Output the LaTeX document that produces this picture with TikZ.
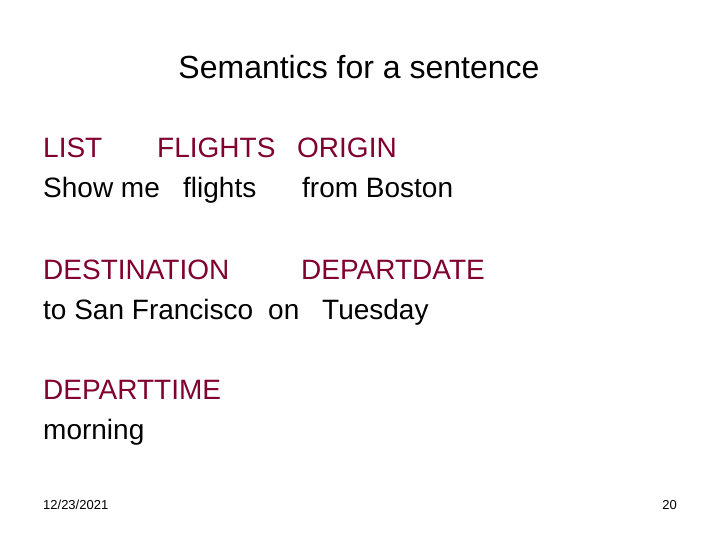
\documentclass[tikz,border=0pt]{standalone}
\usepackage{fontspec}
\setmainfont{Liberation Sans}
\definecolor{slotred}{RGB}{128,0,48}
\tikzset{
  slot/.style={anchor=base west,inner sep=0pt,text=slotred,font=\fontsize{28}{34}\selectfont},
  word/.style={anchor=base west,inner sep=0pt,text=black,font=\fontsize{28}{34}\selectfont},
  foot/.style={inner sep=0pt,font=\fontsize{13}{15}\selectfont}
}
\begin{document}
\begin{tikzpicture}[x=1pt,y=-1pt]
        \useasboundingbox[fill=white] (0,0) rectangle (720,540);

        \node[word,anchor=base,font=\fontsize{32}{38}\selectfont] (title) at (359,79) {Semantics for a sentence};

        \begin{scope}[every node/.style={slot}]
          \node (list)   at (43,158)  {LIST};
          \node (flights) at (157,158) {FLIGHTS};
          \node (origin) at (297,158) {ORIGIN};
          \node (dest)   at (43,279)  {DESTINATION};
          \node (date)   at (301,279) {DEPARTDATE};
          \node (time)   at (43,399)  {DEPARTTIME};
        \end{scope}

        \begin{scope}[every node/.style={word}]
          \node (show)   at (43,198)  {Show me};
          \node (fl)     at (183,198) {flights};
          \node (boston) at (302,198) {from Boston};
          \node (sf)     at (43,319)  {to San Francisco};
          \node (on)     at (268,319) {on};
          \node (tues)   at (322,319) {Tuesday};
          \node (morn)   at (43,439)  {morning};
        \end{scope}

        \node[foot,anchor=base west] (day) at (43,509) {12/23/2021};
        \node[foot,anchor=base east] (page) at (677,509) {20};

      \end{tikzpicture}
\end{document}
